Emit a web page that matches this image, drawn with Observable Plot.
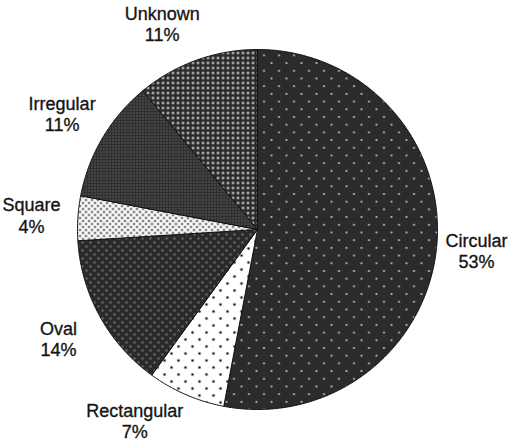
<!DOCTYPE html>
<html>
<head>
<meta charset="utf-8">
<script src="https://cdn.jsdelivr.net/npm/d3@7"></script>
<script src="https://cdn.jsdelivr.net/npm/@observablehq/plot@0.6"></script>
<style>
  html, body { margin: 0; padding: 0; background: #fff; }
  #chart { width: 509px; height: 443px; }
</style>
</head>
<body>
<svg width="0" height="0" style="position:absolute">
  <defs>
    <pattern id="pCircular" patternUnits="userSpaceOnUse" width="15" height="15.4">
      <rect width="15" height="15.4" fill="#2b2b2b"/>
      <circle cx="1" cy="1" r="0.9" fill="#e6e6e6"/>
      <circle cx="8.5" cy="8.7" r="0.9" fill="#e6e6e6"/>
    </pattern>
    <pattern id="pRectangular" patternUnits="userSpaceOnUse" width="14" height="14">
      <rect width="14" height="14" fill="#fff"/>
      <circle cx="3" cy="3" r="1.3" fill="#111"/>
      <circle cx="10" cy="10" r="1.3" fill="#111"/>
    </pattern>
    <pattern id="pOval" patternUnits="userSpaceOnUse" width="8" height="8">
      <rect width="8" height="8" fill="#2a2a2a"/>
      <circle cx="2" cy="2" r="0.8" fill="#cfcfcf"/>
      <circle cx="6" cy="6" r="0.8" fill="#cfcfcf"/>
    </pattern>
    <pattern id="pSquare" patternUnits="userSpaceOnUse" width="6" height="6">
      <rect width="6" height="6" fill="#fbfbfb"/>
      <circle cx="1.5" cy="1.5" r="1.1" fill="#222"/>
      <circle cx="4.5" cy="4.5" r="1.1" fill="#222"/>
    </pattern>
    <pattern id="pIrregular" patternUnits="userSpaceOnUse" width="3" height="3">
      <rect width="3" height="3" fill="#303030"/>
      <rect x="1" y="1" width="1" height="1" fill="#808080"/>
    </pattern>
    <pattern id="pUnknown" patternUnits="userSpaceOnUse" width="5" height="5">
      <rect width="5" height="5" fill="#2a2a2a"/>
      <circle cx="2.5" cy="2.5" r="1.2" fill="#dcdcdc"/>
    </pattern>
  </defs>
</svg>
<div id="chart"></div>
<script>
// ---- data ----
const categories = ["Circular", "Rectangular", "Oval", "Square", "Irregular", "Unknown"];
const percents = [53, 7, 14, 4, 11, 11];
const patternIds = ["pCircular", "pRectangular", "pOval", "pSquare", "pIrregular", "pUnknown"];

// ---- layout ----
const W = 509, H = 443;
const margin = {left: 77, right: 72, top: 49, bottom: 34};
const pxPerUnit = (W - margin.left - margin.right) / 2;   // radius in px
const cx = margin.left + pxPerUnit, cy = margin.top + pxPerUnit;
const font = "18px 'Liberation Sans', Arial, Helvetica, sans-serif";

const pie = d3.pie().sort(null).value(d => d)(percents);

// slice polygons (angles clockwise from 12 o'clock)
const slices = pie.map((p, i) => {
  const n = Math.max(2, Math.ceil((p.endAngle - p.startAngle) / (Math.PI / 360)));
  const pts = [{x: 0, y: 0}];
  for (let k = 0; k <= n; k++) {
    const a = p.startAngle + (p.endAngle - p.startAngle) * k / n;
    pts.push({x: Math.sin(a), y: Math.cos(a)});
  }
  pts.push({x: 0, y: 0});
  return {name: categories[i], pattern: patternIds[i], pts};
});

// label positions: on a ring around the pie, slid along the ring if they would leave the frame
const ctx = document.createElement("canvas").getContext("2d");
ctx.font = font;
const R = 227;   // px
const halfH = 21, pad = 2;
const labels = pie.map((p, i) => {
  const a = (p.startAngle + p.endAngle) / 2;
  let dx = R * Math.sin(a), dy = -R * Math.cos(a);   // screen offsets
  const yMin = -cy + halfH + pad, yMax = H - cy - halfH - pad;
  if (dy < yMin || dy > yMax) {
    dy = Math.max(yMin, Math.min(yMax, dy));
    dx = Math.sign(dx) * Math.sqrt(Math.max(0, R * R - dy * dy));
  }
  const name = categories[i], pct = `${percents[i]}%`;
  const hw = Math.max(ctx.measureText(name).width, ctx.measureText(pct).width) / 2;
  dx = Math.max(-cx + hw + pad, Math.min(W - cx - hw - pad, dx));
  return {x: dx / pxPerUnit, y: -dy / pxPerUnit, text: `${name}\n${pct}`};
});

const marks = slices.map(s =>
  Plot.line(s.pts, {x: "x", y: "y", fill: `url(#${s.pattern})`, stroke: "#111", strokeWidth: 1, strokeLinejoin: "round"})
);
marks.push(Plot.text(labels, {
  x: "x", y: "y", text: "text",
  fontSize: 18, lineHeight: 1.17, fill: "#151515", stroke: "#151515", strokeWidth: 0.35,
  textAnchor: "middle"
}));

const chart = Plot.plot({
  width: W, height: H,
  marginLeft: margin.left, marginRight: margin.right,
  marginTop: margin.top, marginBottom: margin.bottom,
  x: {domain: [-1, 1], axis: null},
  y: {domain: [-1, 1], axis: null},
  style: {fontFamily: "'Liberation Sans', Arial, Helvetica, sans-serif", background: "#fff", overflow: "visible"},
  marks
});
document.getElementById("chart").appendChild(chart);
</script>
</body>
</html>
